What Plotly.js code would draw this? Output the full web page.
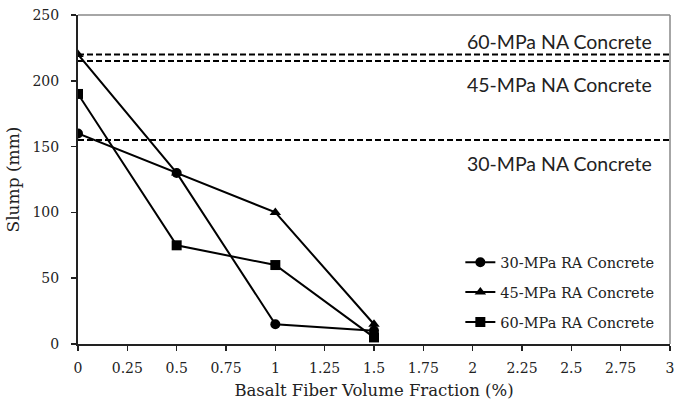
<!DOCTYPE html>
<html>
<head>
<meta charset="utf-8">
<script src="https://cdn.plot.ly/plotly-3.0.1.min.js"></script>
<style>html,body{margin:0;padding:0;background:#fff}#chart{width:675px;height:406px}</style>
</head>
<body>
<div id="chart"></div>
<script>
var fiber = [0, 0.5, 1, 1.5];
var slump30RA = [160, 130, 15, 10];
var slump45RA = [220, 130, 100, 15];
var slump60RA = [190, 75, 60, 5];
var naRange = [0, 3];
var slump60NA = 220;
var slump45NA = 215;
var slump30NA = 155;
var naLabels = ["60-MPa NA Concrete", "45-MPa NA Concrete", "30-MPa NA Concrete"];
var naLabelY = [230, 197, 137];
var seriesNames = ["30-MPa RA Concrete", "45-MPa RA Concrete", "60-MPa RA Concrete"];

var serif = "DejaVu Serif, serif";
var sans = "Lato, Open Sans, sans-serif";

function naTrace(v) {
  return {x: naRange, y: [v, v], mode: 'lines', showlegend: false, hoverinfo: 'skip',
    line: {color: '#000', width: 2, dash: '6px,3px'}};
}
var traces = [
  naTrace(slump60NA), naTrace(slump45NA), naTrace(slump30NA),
  {x: fiber, y: slump30RA, name: seriesNames[0], legendgroup: 'a', mode: 'lines+markers',
    line: {color: '#000', width: 2}, marker: {symbol: 'circle', size: 10, color: '#000'}},
  {x: fiber, y: slump45RA, name: seriesNames[1], legendgroup: 'b', mode: 'lines+markers',
    line: {color: '#000', width: 2}, marker: {symbol: 'triangle-up', size: 10, color: '#000'}},
  {x: fiber, y: slump60RA, name: seriesNames[2], legendgroup: 'c', mode: 'lines+markers',
    line: {color: '#000', width: 2}, marker: {symbol: 'square', size: 10, color: '#000'}}
];

var layout = {
  width: 675, height: 406,
  margin: {l: 78, r: 5, t: 15, b: 62},
  paper_bgcolor: '#fff', plot_bgcolor: '#fff',
  showlegend: true,
  legend: {x: 0.982, xanchor: 'right', y: 0.297, yanchor: 'top', bgcolor: 'rgba(0,0,0,0)',
    font: {family: serif, size: 14.5, color: '#222'}, tracegroupgap: 8, itemwidth: 30},
  xaxis: {range: [0, 3], dtick: 0.25, tick0: 0, showgrid: false, zeroline: false,
    showline: true, linecolor: '#222', linewidth: 2, mirror: false,
    ticks: 'outside', ticklen: 5, tickcolor: '#222', tickwidth: 1.5, ticklabelstandoff: 5,
    tickfont: {family: serif, size: 14, color: '#222'},
    title: {text: 'Basalt Fiber Volume Fraction (%)', font: {family: serif, size: 16.5, color: '#222'}, standoff: 10}},
  yaxis: {range: [0, 250], dtick: 50, showgrid: false, zeroline: false,
    showline: true, linecolor: '#222', linewidth: 2,
    ticks: 'outside', ticklen: 5, tickcolor: '#222', tickwidth: 1.5, ticklabelstandoff: 9,
    tickfont: {family: serif, size: 14, color: '#222'},
    title: {text: 'Slump (mm)', font: {family: serif, size: 17, color: '#222'}, standoff: 9}},
  shapes: [
    {type: 'line', xref: 'paper', yref: 'paper', x0: 0, x1: 1, y0: 1, y1: 1, line: {color: '#888', width: 1.5}},
    {type: 'line', xref: 'paper', yref: 'paper', x0: 1, x1: 1, y0: 0, y1: 1, line: {color: '#888', width: 1.5}}
  ],
  annotations: naLabels.map(function (t, i) {
    return {x: 2.92, y: naLabelY[i], xref: 'x', yref: 'y', text: t, showarrow: false,
      xanchor: 'right', yanchor: 'middle', font: {family: sans, size: 19.5, color: '#222'}};
  })
};
Plotly.newPlot('chart', traces, layout, {displayModeBar: false, staticPlot: true});
</script>
</body>
</html>
